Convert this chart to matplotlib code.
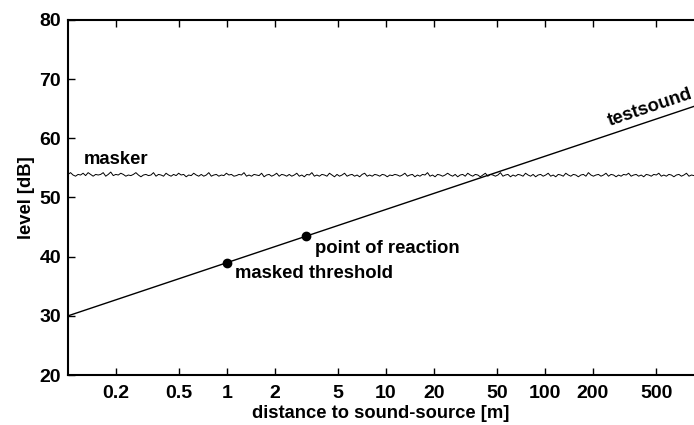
import matplotlib.pyplot as plt
import numpy as np

plt.rcParams['font.family'] = ['Liberation Sans', 'DejaVu Sans']
plt.rcParams['font.weight'] = 'bold'

# test sound: straight line on log distance axis
test_x = [0.1, 865]
test_y = [30.0, 65.4]

# masked threshold and point of reaction
pt_x = [1.0, 3.16]
pt_y = [39.0, 43.5]

# masker level (dB), equally spaced in log distance
masker_y = [53.9, 54.2, 53.8, 53.6, 53.9, 53.8, 54.1, 53.7, 54.2, 53.9,
            53.6, 53.9, 53.8, 53.9, 54.2, 53.6, 53.9, 54.3, 53.7, 53.9,
            53.8, 54.1, 53.9, 53.6, 53.8, 53.7, 53.9, 54.2, 53.8, 53.5,
            53.8, 53.9, 53.7, 53.8, 54.2, 53.6, 53.9, 53.8, 53.6, 54.1,
            53.8, 53.6, 53.9, 53.7, 54.1, 53.8, 53.9, 53.5, 53.8, 53.7,
            54.1, 53.8, 53.6, 53.9, 53.6, 53.8, 54.2, 53.6, 53.8, 53.9,
            53.6, 53.8, 53.7, 54.1, 53.8, 53.9, 53.6, 53.7, 53.9, 53.8,
            54.2, 53.6, 53.8, 53.6, 53.9, 53.8, 53.7, 54.1, 53.5, 53.8,
            53.9, 53.6, 53.8, 54.1, 53.6, 53.9, 53.8, 53.6, 53.9, 53.6,
            53.8, 54.1, 53.6, 53.8, 53.5, 53.9, 53.8, 54.2, 53.6, 53.8,
            53.6, 53.9, 53.8, 53.6, 54.1, 53.8, 53.5, 53.9, 53.6, 53.8,
            54.1, 53.6, 53.8, 53.9, 53.6, 53.8, 53.5, 53.9, 54.1, 53.6,
            53.8, 53.6, 53.9, 53.8, 53.6, 53.9, 53.8, 53.5, 53.8, 53.7,
            53.9, 53.8, 53.6, 53.8, 54.1, 53.6, 53.8, 53.9, 53.5, 53.8,
            53.6, 53.9, 53.8, 54.2, 53.6, 53.8, 53.5, 53.9, 53.8, 53.6,
            53.8, 54.1, 53.8, 53.6, 53.9, 53.5, 53.8, 53.9, 53.6, 54.1,
            53.8, 53.6, 53.9, 53.8, 53.5, 53.8, 54.1, 53.6, 53.9, 53.8,
            53.6, 53.8, 54.2, 53.6, 53.8, 53.9, 53.5, 53.8, 53.6, 53.9,
            53.8, 53.6, 54.1, 53.8, 53.6, 53.9, 53.5, 53.8, 53.9, 53.6,
            53.8, 54.1, 53.6, 53.8, 53.5, 53.9, 53.8, 53.6, 54.1, 53.8,
            53.6, 53.9, 53.8, 53.5, 53.8, 53.9, 53.6, 54.2, 53.8, 53.6,
            53.8, 53.9, 53.6, 53.8, 54.1, 53.6, 53.9, 53.8, 53.5, 53.8,
            53.6, 53.9, 53.8, 54.1, 53.6, 53.8, 53.9, 53.6, 53.8, 53.5,
            53.9, 53.8, 53.6, 53.9, 53.8, 54.1, 53.6, 53.8, 53.6, 53.9,
            53.8, 53.5, 53.8, 53.9, 53.6, 53.8, 54.1, 53.6, 53.8, 53.7]
masker_x = np.logspace(-1, np.log10(865), len(masker_y))

xticks = [0.2, 0.5, 1, 2, 5, 10, 20, 50, 100, 200, 500]
xticklabels = ['0.2', '0.5', '1', '2', '5', '10', '20', '50', '100', '200', '500']
yticks = [20, 30, 40, 50, 60, 70, 80]

fig = plt.figure(figsize=(6.94, 4.25), dpi=100)
ax = fig.add_axes([0.098, 0.1176, 0.902, 0.8354])

ax.plot(masker_x, masker_y, color='black', linewidth=0.7)
ax.plot(test_x, test_y, color='black', linewidth=1.0)
ax.plot(pt_x, pt_y, 'o', color='black', markersize=6)

ax.set_xscale('log')
ax.set_xlim(0.1, 865)
ax.set_ylim(20, 80)
ax.set_xticks(xticks)
ax.set_xticklabels(xticklabels)
ax.minorticks_off()
ax.set_yticks(yticks)

ax.spines['right'].set_visible(False)
for s in ['left', 'bottom', 'top']:
    ax.spines[s].set_linewidth(1.5)
ax.tick_params(axis='x', direction='in', top=True, length=5, width=1, labelsize=14, pad=7)
ax.tick_params(axis='y', direction='in', right=False, length=5, width=1, labelsize=14, pad=5)

ax.set_xlabel('distance to sound-source [m]', fontsize=13.2, fontweight='bold', labelpad=2)
ax.set_ylabel('level [dB]', fontsize=13.2, fontweight='bold', labelpad=3)

ax.text(0.126, 55.7, 'masker', fontsize=13.3, fontweight='bold')
ax.text(3.57, 40.6, 'point of reaction', fontsize=13.3, fontweight='bold')
ax.text(1.12, 36.4, 'masked threshold', fontsize=13.3, fontweight='bold')
ax.text(457, 65.2, 'testsound', fontsize=13.3, fontweight='bold', rotation=18.6,
        rotation_mode='anchor', ha='center', va='center')

fig.savefig('out.png', dpi=100)
